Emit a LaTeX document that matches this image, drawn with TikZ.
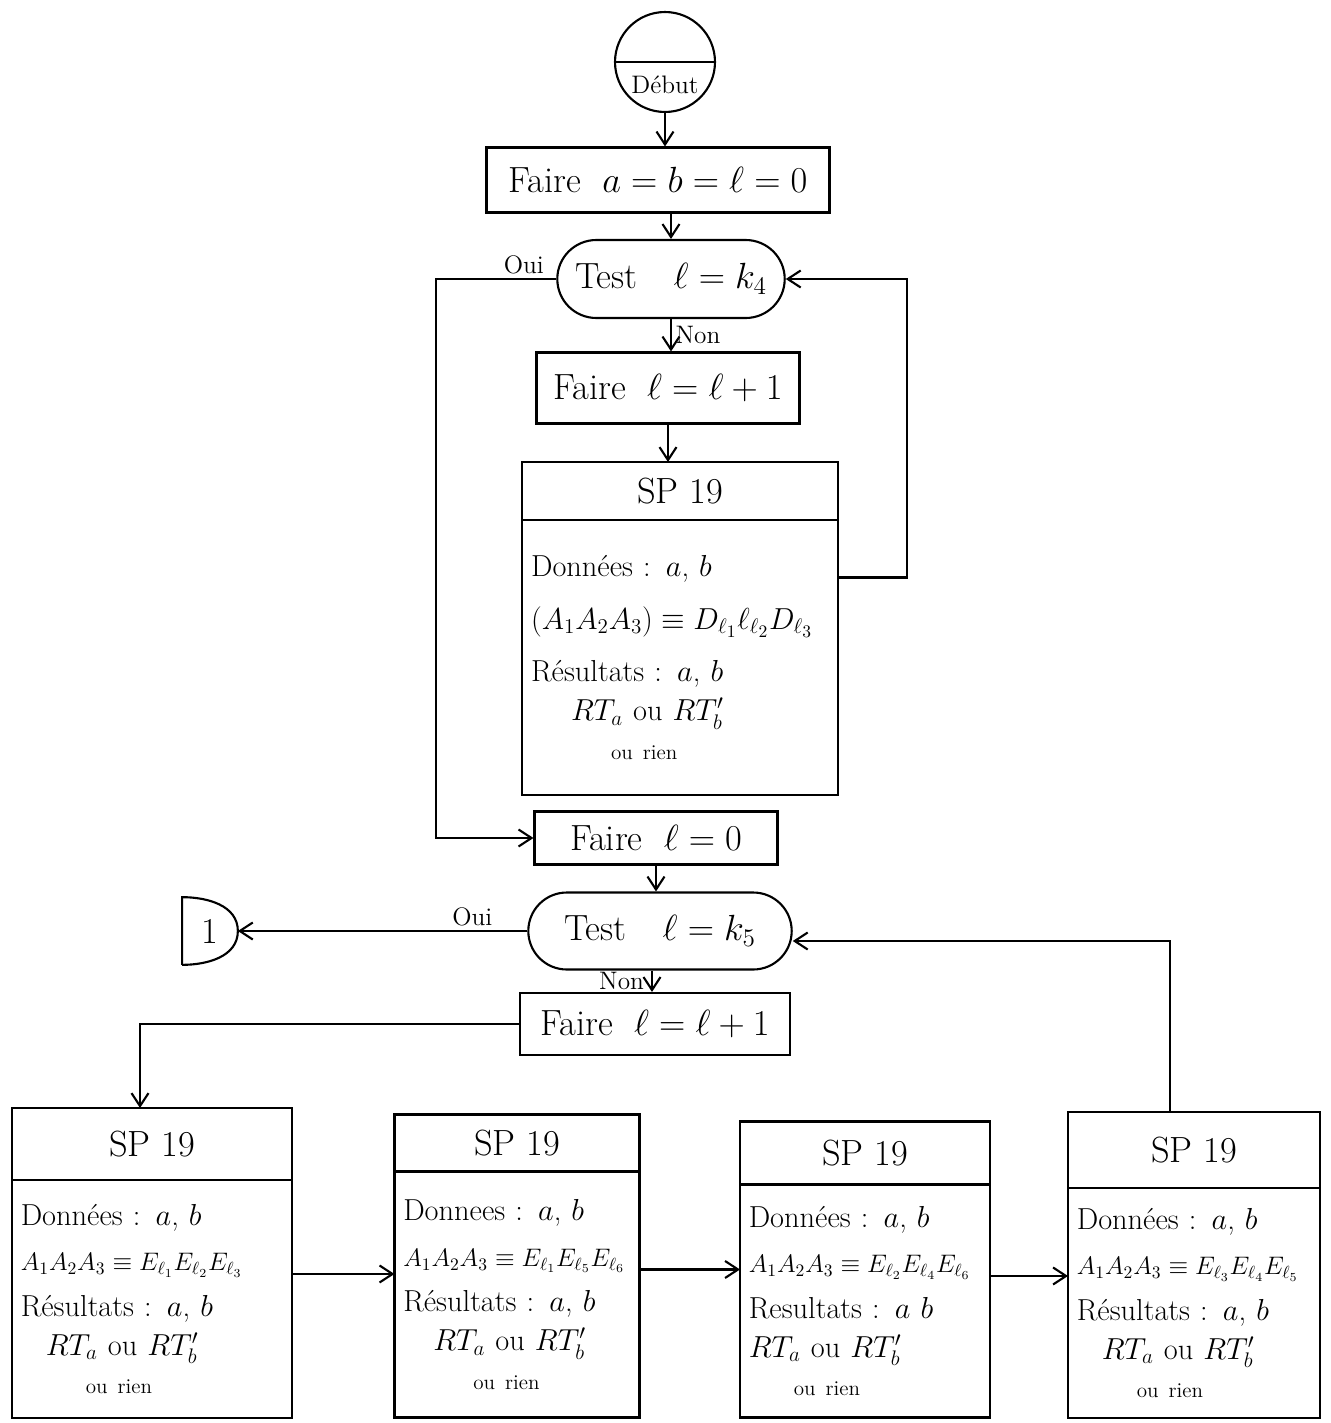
\documentclass[tikz,border=0pt]{standalone}
\usepackage{amsmath,amssymb}
\usepackage{tikz}
\usetikzlibrary{arrows.meta,positioning,calc,shapes.misc}
\tikzset{
  base/.style={font=\huge, align=center, inner sep=3pt},
  box/.style={base, rectangle, draw, line width=1.2pt},
  testbox/.style={base, rounded rectangle, draw, line width=1.2pt},
  startc/.style={circle, draw, line width=1.2pt, minimum size=2cm, inner sep=0pt},
  sphead/.style={box, outer sep=0pt},
  spbody/.style={rectangle, draw, line width=1.2pt, font=\LARGE, align=left, anchor=north, inner sep=5pt, outer sep=0pt},
  arr/.style={-{Straight Barb[length=2.6mm,width=3.4mm]}, line width=1.2pt},
  lbl/.style={font=\Large, inner sep=2pt},
}

\begin{document}
\begin{tikzpicture}[x=0.02cm,y=-0.02cm]
  \useasboundingbox (0,0) rectangle (1330,1423);
  \node[startc] (debut) at (665,62) {};
  \draw[line width=1.2pt] (debut.west) -- (debut.east);
  \node[lbl] (debutlbl) at ([yshift=-0.45cm]debut.center) {Début};
  \node[box,minimum width=6.86cm,minimum height=1.3cm] (init) at (658,180) {Faire\; $a = b = \ell = 0$};
  \node[testbox,minimum width=4.76cm,minimum height=1.56cm] (test1) at (671,279) {Test\quad $\ell = k_4$};
  \node[box,minimum width=5.26cm,minimum height=1.42cm] (incr1) at (668,388) {Faire\; $\ell = \ell + 1$};
  \node[sphead,minimum width=6.32cm,minimum height=1.16cm] (sp0h) at (680,491) {SP 19};
  \node[spbody,text width=5.96cm,minimum height=5.5cm] (sp0b) at (sp0h.south) {%
    Données : $a$, $b$\\[8pt]
    $(A_1A_2A_3) \equiv D_{\ell_1}\ell_{\ell_2}D_{\ell_3}$\\[8pt]
    Résultats : $a$, $b$\\
    \hspace*{0.8cm}$RT_a$ ou $RT_b'$\\
    \hspace*{1.6cm}{\large ou rien}};
  \node[box,minimum width=4.86cm,minimum height=1.06cm] (init2) at (656,838) {Faire\; $\ell = 0$};
  \node[testbox,minimum width=5.48cm,minimum height=1.54cm] (test2) at (660,931) {Test\quad $\ell = k_5$};
  \node[base,minimum width=1.1cm,minimum height=1.34cm] (conn1) at (210,931) {1};
  \draw[line width=1.2pt] (conn1.south west) -- (conn1.north west) to[out=0,in=90] (conn1.east) to[out=-90,in=0] (conn1.south west);
  \node[box,minimum width=5.4cm,minimum height=1.24cm] (incr2) at (655,1024) {Faire\; $\ell = \ell + 1$};
  \node[sphead,minimum width=5.6cm,minimum height=1.44cm] (sp1h) at (152,1144) {SP 19};
  \node[spbody,text width=5.25cm,minimum height=4.76cm] (sp1b) at (sp1h.south) {%
    Données : $a$, $b$\\[4pt]
    {\Large $A_1A_2A_3 \equiv E_{\ell_1}E_{\ell_2}E_{\ell_3}$}\\[4pt]
    Résultats : $a$, $b$\\
    \hspace*{0.5cm}$RT_a$ ou $RT_b'$\\
    \hspace*{1.3cm}{\large ou rien}};
  \node[sphead,minimum width=4.9cm,minimum height=1.14cm] (sp2h) at (517,1143) {SP 19};
  \node[spbody,text width=4.55cm,minimum height=4.92cm] (sp2b) at (sp2h.south) {%
    Donnees : $a$, $b$\\[4pt]
    {\Large $A_1A_2A_3 \equiv E_{\ell_1}E_{\ell_5}E_{\ell_6}$}\\[4pt]
    Résultats : $a$, $b$\\
    \hspace*{0.6cm}$RT_a$ ou $RT_b'$\\
    \hspace*{1.4cm}{\large ou rien}};
  \node[sphead,minimum width=5cm,minimum height=1.26cm] (sp3h) at (865,1153) {SP 19};
  \node[spbody,text width=4.65cm,minimum height=4.66cm] (sp3b) at (sp3h.south) {%
    Données : $a$, $b$\\[4pt]
    {\Large $A_1A_2A_3 \equiv E_{\ell_2}E_{\ell_4}E_{\ell_6}$}\\[4pt]
    Resultats : $a$ $b$\\
    $RT_a$ ou $RT_b'$\\
    \hspace*{0.9cm}{\large ou rien}};
  \node[sphead,minimum width=5.04cm,minimum height=1.52cm] (sp4h) at (1194,1150) {SP 19};
  \node[spbody,text width=4.69cm,minimum height=4.6cm] (sp4b) at (sp4h.south) {%
    Données : $a$, $b$\\[4pt]
    {\Large $A_1A_2A_3 \equiv E_{\ell_3}E_{\ell_4}E_{\ell_5}$}\\[4pt]
    Résultats : $a$, $b$\\
    \hspace*{0.5cm}$RT_a$ ou $RT_b'$\\
    \hspace*{1.2cm}{\large ou rien}};
  \draw[arr] (debut.south) -- (debut.south |- init.north);
  \draw[arr] (init.south -| test1.north) -- (test1.north);
  \draw[arr] (test1.south) -- node[lbl,right]{Non} (test1.south |- incr1.north);
  \draw[arr] (incr1.south) -- (incr1.south |- sp0h.north);
  \draw[arr] ([yshift=1.6cm]sp0b.east) -- ++(1.38cm,0) |- (test1.east);
  \draw[arr] (test1.west) -- node[lbl,above,pos=0.27]{Oui} ++(-2.4cm,0) |- (init2.west);
  \draw[arr] (init2.south) -- (init2.south |- test2.north);
  \draw[arr] (test2.west) -- node[lbl,above,pos=0.19]{Oui} (conn1.east);
  \draw[arr] ([xshift=-0.16cm]test2.south) -- node[lbl,left=2pt]{Non} ([xshift=-0.16cm]test2.south |- incr2.north);
  \draw[arr] (incr2.west) -| ([xshift=-0.24cm]sp1h.north);
  \foreach \a/\b in {sp1b/sp2b,sp2b/sp3b,sp3b/sp4b}{\draw[arr] ([yshift=0.5cm]\a.east) -- ([yshift=0.5cm]\a.east -| \b.west);}
  \draw[arr] ([xshift=-0.48cm]sp4h.north) |- ([yshift=-0.2cm]test2.east);
\end{tikzpicture}
\end{document}
